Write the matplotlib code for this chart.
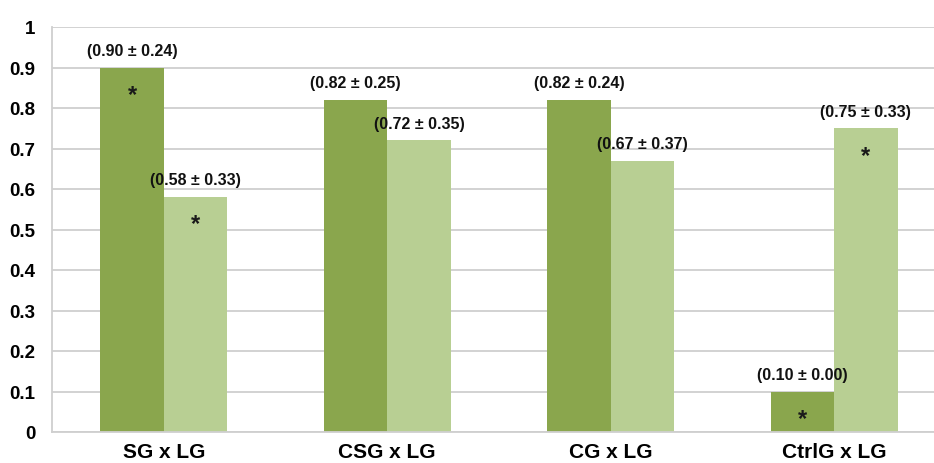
import matplotlib
matplotlib.use("Agg")
import matplotlib.pyplot as plt
import numpy as np

categories = ["SG x LG", "CSG x LG", "CG x LG", "CtrlG x LG"]
series_a = [0.90, 0.82, 0.82, 0.10]
series_b = [0.58, 0.72, 0.67, 0.75]
sd_a = [0.24, 0.25, 0.24, 0.00]
sd_b = [0.33, 0.35, 0.37, 0.33]
sig_a = [True, False, False, True]
sig_b = [True, False, False, True]
yticks = [0, 0.1, 0.2, 0.3, 0.4, 0.5, 0.6, 0.7, 0.8, 0.9, 1]
ytick_labels = ["0", "0.1", "0.2", "0.3", "0.4", "0.5", "0.6", "0.7", "0.8", "0.9", "1"]

plt.rcParams['font.family'] = ['Liberation Sans', 'DejaVu Sans']

W, H = 934, 464
fig = plt.figure(figsize=(W / 100, H / 100), dpi=100)
left, right, bottom, top = 52, 934, 433, 28
ax = fig.add_axes([left / W, 1 - bottom / H, (right - left) / W, (bottom - top) / H])

x = np.arange(len(categories))
bw = 0.283
dark = "#8aa64d"
light = "#b8cf93"
ax.bar(x - bw / 2, series_a, bw, color=dark, zorder=2)
ax.bar(x + bw / 2, series_b, bw, color=light, zorder=2)

for i in range(len(categories)):
    for xs, v, s, sig in ((x[i] - bw / 2, series_a[i], sd_a[i], sig_a[i]),
                          (x[i] + bw / 2, series_b[i], sd_b[i], sig_b[i])):
        ax.annotate(f"({v:.2f} ± {s:.2f})", (xs, v), xytext=(0, 7),
                    textcoords="offset points", ha="center", va="bottom",
                    fontsize=11.5, fontweight="bold", color="#111111")
        if sig:
            ax.annotate("*", (xs, v), xytext=(0, -11), textcoords="offset points",
                        ha="center", va="top", fontsize=17, fontweight="bold",
                        color="#1a1a1a")

ax.set_xlim(-0.5, (right - left) / 223.5 - 0.5)
ax.set_ylim(0, 1)
ax.set_yticks(yticks)
ax.set_yticklabels(ytick_labels)
ax.set_xticks(x)
ax.set_xticklabels(categories)
ax.tick_params(axis="y", length=0, pad=12, labelsize=13.5)
ax.tick_params(axis="x", length=0, pad=7, labelsize=15)
for lbl in ax.get_xticklabels() + ax.get_yticklabels():
    lbl.set_fontweight("bold")
ax.yaxis.grid(True, color="#cfcfcf", linewidth=1.3, zorder=0)
ax.set_axisbelow(True)
for s in ["top", "right"]:
    ax.spines[s].set_visible(False)
ax.spines["left"].set_color("#cfcfcf")
ax.spines["bottom"].set_color("#cfcfcf")
ax.spines["left"].set_linewidth(1.3)
ax.spines["bottom"].set_linewidth(1.3)

fig.savefig("out.png", dpi=100)
